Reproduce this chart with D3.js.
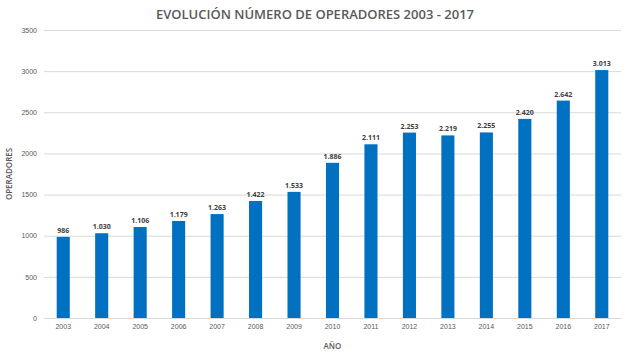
<!DOCTYPE html>
<html>
<head>
<meta charset="utf-8">
<script src="https://cdn.jsdelivr.net/npm/d3@7"></script>
<style>
  body { margin: 0; background: #fff; }
  svg { display: block; font-family: "Open Sans", sans-serif; }
</style>
</head>
<body>
<div id="chart"></div>
<script>
const years = ['2003','2004','2005','2006','2007','2008','2009','2010',
    '2011','2012','2013','2014','2015','2016','2017'];
const operadores = [986, 1030, 1106, 1179, 1263, 1422, 1533, 1886,
    2111, 2253, 2219, 2255, 2420, 2642, 3013];
const yTicks = [0, 500, 1000, 1500, 2000, 2500, 3000, 3500];

const width = 630;
const height = 354;
const margin = {top: 30, right: 9, bottom: 36, left: 44};

const svg = d3.select('#chart')
    .append('svg')
        .attr('width', width)
        .attr('height', height);

// scales
const x = d3.scaleBand()
    .domain(years)
    .range([margin.left, width - margin.right])
    .paddingInner(0.66)
    .paddingOuter(0.33);
const y = d3.scaleLinear()
    .domain([0, 3500])
    .range([height - margin.bottom, margin.top]);

// axes
svg.append('g')
    .attr('transform', `translate(${margin.left},0)`)
    .call(d3.axisLeft(y).tickValues(yTicks).tickFormat(d3.format('d'))
        .tickSize(-(width - margin.left - margin.right)).tickPadding(7))
    .call(g => g.select('.domain').remove())
    .call(g => g.selectAll('.tick line').attr('stroke', '#d9d9d9'))
    .call(g => g.selectAll('.tick text')
        .attr('fill', '#595959')
        .style('font-size', '7px'));

svg.append('g')
    .attr('transform', `translate(0,${height - margin.bottom})`)
    .call(d3.axisBottom(x).tickSize(0).tickPadding(6))
    .call(g => g.select('.domain').attr('stroke', '#d9d9d9'))
    .call(g => g.selectAll('.tick text')
        .attr('fill', '#595959')
        .style('font-size', '7px'));

// bars
svg.append('g')
    .selectAll('rect')
    .data(operadores)
    .join('rect')
        .attr('x', (d, i) => x(years[i]))
        .attr('y', d => y(d))
        .attr('width', x.bandwidth())
        .attr('height', d => y(0) - y(d))
        .attr('fill', '#0070c0');

// labels
svg.append('g')
    .selectAll('text')
    .data(operadores)
    .join('text')
        .attr('x', (d, i) => x(years[i]) + x.bandwidth() / 2)
        .attr('y', d => y(d) - 4)
        .attr('text-anchor', 'middle')
        .attr('fill', '#404040')
        .style('font-size', '7px')
        .style('font-weight', 'bold')
        .text(d => d3.format(',')(d).replace(/,/g, '.'));

// titles
svg.append('text')
    .attr('x', width / 2)
    .attr('y', 19)
    .attr('text-anchor', 'middle')
    .attr('fill', '#595959')
    .style('font-size', '13px')
    .style('font-weight', '600')
    .text('EVOLUCIÓN NÚMERO DE OPERADORES 2003 - 2017');

svg.append('text')
    .attr('x', (margin.left + width - margin.right) / 2)
    .attr('y', 349)
    .attr('text-anchor', 'middle')
    .attr('fill', '#595959')
    .style('font-size', '8px')
    .style('font-weight', '600')
    .text('AÑO');

svg.append('text')
    .attr('transform', `translate(12,${(margin.top + height - margin.bottom) / 2}) rotate(-90)`)
    .attr('text-anchor', 'middle')
    .attr('fill', '#595959')
    .style('font-size', '8px')
    .style('font-weight', '600')
    .text('OPERADORES');
</script>
</body>
</html>
